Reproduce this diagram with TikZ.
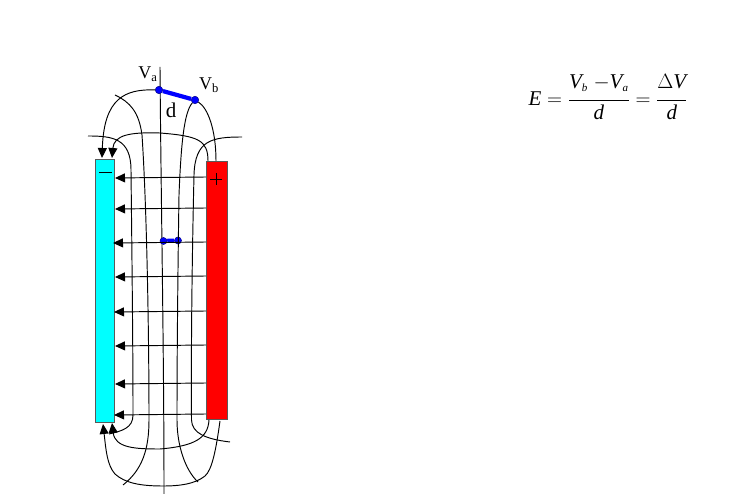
\documentclass[tikz,border=0pt]{standalone}
\usepackage{fontspec}
\setmainfont{Liberation Serif}
\usetikzlibrary{arrows.meta}
\definecolor{platecyan}{RGB}{0,255,255}
\definecolor{platered}{RGB}{255,0,0}
\definecolor{probeblue}{RGB}{0,0,255}
\tikzset{
  plate/.style={draw=black!65,line width=0.8pt,anchor=north west,inner sep=0pt,outer sep=0pt},
  field/.style={draw=black,line width=0.95pt,-{Triangle[length=10pt,width=9pt]}},
  curve/.style={draw=black,line width=0.95pt},
  probe/.style={draw=probeblue,line width=4.2pt},
  dot/.style={circle,fill=probeblue,draw=black!50!probeblue,line width=0.5pt,minimum size=7.5pt,inner sep=0pt},
  lab/.style={inner sep=0pt,font=\fontsize{18}{18}\selectfont}
}
\newcommand{\mi}[1]{\textit{#1}}
\newcommand{\sbs}[1]{_{\mbox{\fontsize{11}{11}\selectfont\textit{#1}}}}
\begin{document}
\begin{tikzpicture}[x=1pt,y=-1pt]
\useasboundingbox (0,0) rectangle (745,502);
% field line axis and outer curves (under the plates)
\coordinate (ct) at (160,67); \coordinate (cb) at (164,494);
\draw[curve] (ct) .. controls (161,200) and (164,350) .. (cb);
\coordinate (cl1) at (115,95); \coordinate (cl2) at (123,485);
\draw[curve] (cl1) .. controls (130,102) and (139,112) .. (142,135)
  .. controls (147,210) and (149,340) .. (149,420)
  .. controls (149,450) and (142,470) .. (cl2);
\coordinate (il1) at (88,136); \coordinate (il2) at (109,434);
\draw[curve] (il1) .. controls (112,136) and (131,138) .. (131,170)
  .. controls (132,260) and (133,350) .. (133,415)
  .. controls (133,428) and (122,431) .. (il2);
\coordinate (ir1) at (242,137); \coordinate (ir2) at (230,442);
\draw[curve] (ir1) .. controls (212,137) and (195,140) .. (194,175)
  .. controls (192,260) and (191,350) .. (191.5,420)
  .. controls (192,433) and (205,439) .. (ir2);
% plates
\node[plate,fill=platecyan,minimum width=19pt,minimum height=263pt] (neg) at (95,159) {};
\node[plate,fill=platered,minimum width=21pt,minimum height=258pt] (pos) at (206,161) {};
% probes
\node[dot] (va) at (159,90) {};
\node[dot] (vb) at (195,100) {};
\node[dot,minimum size=7pt] (pa) at (163.5,241) {};
\node[dot,minimum size=7pt] (pb) at (178,240.5) {};
\draw[probe] (va) -- (vb);
\draw[probe] (pa) -- (pb);
% more curves
\coordinate (nt1) at (102,158); \coordinate (nt2) at (112,158);
\draw[field] (va) .. controls (125,89) and (104,98) .. (nt1);
\draw[curve] (vb) .. controls (208,108) and (216,130) .. (216,161);
\coordinate (vbb) at (198,482);
\draw[curve] (vb) .. controls (184,112) and (181,145) .. (179,195)
  .. controls (178,260) and (177,350) .. (177,420)
  .. controls (177,445) and (185,470) .. (vbb);
\draw[field] (208,161) .. controls (208,140) and (198,136) .. (160,133)
  .. controls (130,132) and (114,135) .. (nt2);
\coordinate (ib1) at (209,420); \coordinate (ib2) at (112,423);
\draw[field] (ib1) .. controls (208,438) and (195,446) .. (160,449)
  .. controls (135,449) and (115,448) .. (ib2);
\coordinate (ob1) at (220,421); \coordinate (ob2) at (103,424);
\draw[field] (ob1) .. controls (216,450) and (212,470) .. (205,476)
  .. controls (195,484) and (180,486) .. (163,486)
  .. controls (140,486) and (125,483) .. (115,474)
  .. controls (107,465) and (106,450) .. (ob2);
% horizontal field lines
\foreach \n/\ya/\yb/\xe in {a/177/178/115,b/208/209/115,c/242/243/113,d/276/277/115,e/311/312/114,f/345/346/115,g/383/384/115,h/414/415/114}{
  \coordinate (r\n) at (206,\ya); \coordinate (l\n) at (\xe,\yb);
  \draw[field] (r\n) -- (l\n);
}
% plate signs
\coordinate (m1) at (99,172); \coordinate (m2) at (112,172);
\draw[line width=0.8pt] (m1) -- (m2);
\coordinate (p1) at (210,179); \coordinate (p2) at (222,179);
\coordinate (p3) at (216,173); \coordinate (p4) at (216,185);
\draw[line width=0.8pt] (p1) -- (p2) (p3) -- (p4);
% labels
\node[lab] (lva) at (148,74) {V\textsubscript{a}};
\node[lab] (lvb) at (209,85) {V\textsubscript{b}};
\node[lab,font=\fontsize{21}{21}\selectfont] (ld) at (171,110) {d};
\node[inner sep=0pt,font=\fontsize{21}{21}\selectfont] (eq) at (608,97) {$\displaystyle\mi{E}\;{=}\;\frac{\raisebox{3pt}{$\mi{V}\sbs{b}\;{-}\mi{V}\sbs{a}$}}{\mi{d}}\;{=}\;\frac{\raisebox{3pt}{$\Delta\mi{V}$}}{\mi{d}}$};
\end{tikzpicture}
\end{document}
